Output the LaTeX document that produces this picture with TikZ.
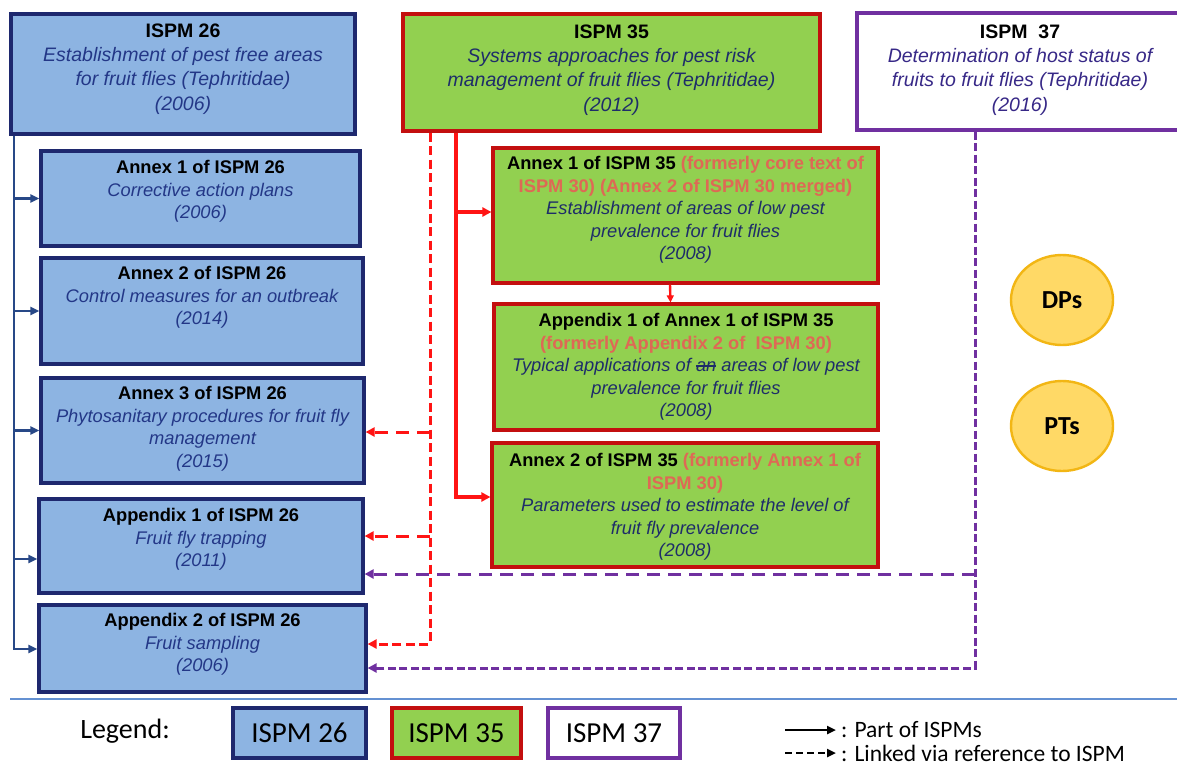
\documentclass[tikz,border=0pt]{standalone}
\usepackage{fontspec}
\setmainfont{Liberation Sans}
\newfontfamily\carl{Carlito}
\usetikzlibrary{arrows.meta,shapes.geometric}
\definecolor{fillA}{RGB}{141,180,226}
\definecolor{bordA}{RGB}{30,40,110}
\definecolor{txtA}{RGB}{35,55,135}
\definecolor{lineA}{RGB}{40,72,135}
\definecolor{fillB}{RGB}{146,208,80}
\definecolor{bordB}{RGB}{195,15,15}
\definecolor{txtB}{RGB}{30,45,105}
\definecolor{former}{RGB}{222,105,85}
\definecolor{redln}{RGB}{255,20,20}
\definecolor{purp}{RGB}{112,48,160}
\definecolor{txtC}{RGB}{55,40,135}
\definecolor{dpfill}{RGB}{255,217,102}
\definecolor{dpbord}{RGB}{242,182,20}
\definecolor{sepln}{RGB}{100,145,210}
\newcommand{\hdr}[1]{{\upshape\bfseries\color{black}#1}}
\newcommand{\fmr}[1]{{\upshape\bfseries\color{former}#1}}
\newcommand{\strk}[1]{\leavevmode\setbox0\hbox{#1}\rlap{\rule[0.28em]{\wd0}{0.09em}}\box0{}}
\begin{document}
\begin{tikzpicture}[x=1pt,y=-1pt,
  boxA/.style={draw=bordA,fill=fillA,line width=3.2pt,inner sep=0pt},
  boxB/.style={draw=bordB,fill=fillB,line width=3.2pt,inner sep=0pt},
  boxC/.style={draw=purp,fill=white,line width=3.2pt,inner sep=0pt},
  headfont/.style={font=\fontsize{19.5}{24.3}\selectfont\itshape},
  subfont/.style={font=\fontsize{18.3}{22.5}\selectfont\itshape},
  txA/.style={text=txtA,align=center,inner sep=0pt,anchor=north},
  txB/.style={text=txtB,align=center,inner sep=0pt,anchor=north},
  txC/.style={text=txtC,align=center,inner sep=0pt,anchor=north},
  blueln/.style={draw=lineA,line width=2.8pt,-{Triangle[length=9pt,width=8pt]}},
  redsolid/.style={draw=redln,line width=3.4pt,-{Triangle[length=9pt,width=9pt]}},
  reddash/.style={draw=redln,line width=3pt,dash pattern=on 9pt off 4.5pt,-{Triangle[length=9pt,width=9pt]}},
  reddashh/.style={draw=redln,line width=3pt,dash pattern=on 13pt off 8pt,-{Triangle[length=9pt,width=9pt]}},
  purdash/.style={draw=purp,line width=3pt,dash pattern=on 8pt off 3.5pt,-{Triangle[length=9pt,width=9pt]}},
  purdashh/.style={draw=purp,line width=3pt,dash pattern=on 13pt off 8pt,-{Triangle[length=9pt,width=9pt]}},
  dpnode/.style={ellipse,draw=dpbord,fill=dpfill,line width=2.4pt,minimum width=102pt,minimum height=90pt,inner sep=0pt,font=\carl\bfseries\fontsize{26}{30}\selectfont},
  legbox/.style={line width=3.2pt,minimum height=50pt,inner sep=0pt,font=\carl\fontsize{29}{32}\selectfont},
  legtxt/.style={font=\carl\fontsize{23.5}{28}\selectfont,inner sep=0pt,anchor=west}
]
\clip (0,0) rectangle (1177,765);
\fill[white] (0,0) rectangle (1177,765);

% ---------- ISPM 26 column ----------
\node[boxA,minimum width=344pt,minimum height=120pt] (i26) at (183,74) {};
\node[txA,headfont] (i26t) at ([yshift=-11pt]i26.north) {\hdr{ISPM 26}\\Establishment of pest free areas\\for fruit flies (Tephritidae)\\(2006)};

\node[boxA,minimum width=319pt,minimum height=95pt] (a1) at (200.5,198.5) {};
\node[txA,subfont] (a1t) at ([yshift=-11pt]a1.north) {\hdr{Annex 1 of ISPM 26}\\Corrective action plans\\(2006)};

\node[boxA,minimum width=322pt,minimum height=106pt] (a2) at (202,311) {};
\node[txA,subfont] (a2t) at ([yshift=-10pt]a2.north) {\hdr{Annex 2 of ISPM 26}\\Control measures for an outbreak\\(2014)};

\node[boxA,minimum width=323pt,minimum height=105pt] (a3) at (202.5,430.5) {};
\node[txA,subfont] (a3t) at ([yshift=-10pt]a3.north) {\hdr{Annex 3 of ISPM 26}\\Phytosanitary procedures for fruit fly\\management\\(2015)};

\node[boxA,minimum width=324pt,minimum height=94pt] (ap1) at (201,546) {};
\node[txA,subfont] (ap1t) at ([yshift=-11pt]ap1.north) {\hdr{Appendix 1 of ISPM 26}\\Fruit fly trapping\\(2011)};

\node[boxA,minimum width=327pt,minimum height=87pt] (ap2) at (202.5,648.5) {};
\node[txA,subfont] (ap2t) at ([yshift=-10pt]ap2.north) {\hdr{Appendix 2 of ISPM 26}\\Fruit sampling\\(2006)};

% ---------- ISPM 35 column ----------
\node[boxB,minimum width=417pt,minimum height=117pt] (i35) at (611.5,72.5) {};
\node[txB,headfont] (i35t) at ([yshift=-12pt]i35.north) {\hdr{ISPM 35}\\Systems approaches for pest risk\\management of fruit flies (Tephritidae)\\(2012)};

\node[boxB,minimum width=385pt,minimum height=135pt] (b1) at (685.5,215.5) {};
\node[txB,subfont] (b1t) at ([yshift=-10pt]b1.north) {\hdr{Annex 1 of ISPM 35} \fmr{(formerly core text of}\\\fmr{ISPM 30) (Annex 2 of ISPM 30 merged)}\\Establishment of areas of low pest\\prevalence for fruit flies\\(2008)};

\node[boxB,minimum width=384pt,minimum height=126pt] (b2) at (686,367) {};
\node[txB,subfont] (b2t) at ([yshift=-11pt]b2.north) {\hdr{Appendix 1 of Annex 1 of ISPM 35}\\\fmr{(formerly Appendix 2 of\ \ ISPM 30)}\\Typical applications of \strk{an} areas of low pest\\prevalence for fruit flies\\(2008)};

\node[boxB,minimum width=386pt,minimum height=124pt] (b3) at (685,505) {};
\node[txB,subfont] (b3t) at ([yshift=-12pt]b3.north) {\hdr{Annex 2 of ISPM 35} \fmr{(formerly Annex 1 of}\\\fmr{ISPM 30)}\\Parameters used to estimate the level of\\fruit fly prevalence\\(2008)};

% ---------- ISPM 37 ----------
\node[boxC,minimum width=326pt,minimum height=117pt] (i37) at (1020,71.5) {};
\node[txC,headfont] (i37t) at ([yshift=-13pt]i37.north) {\hdr{ISPM\ \ 37}\\Determination of host status of\\fruits to fruit flies (Tephritidae)\\(2016)};

\node[dpnode] (dps) at (1062,300) {DPs};
\node[dpnode] (pts) at (1062,426) {PTs};

% ---------- blue connectors ----------
\coordinate (bt) at (14,649);
\coordinate (bt1) at (14,559);
\draw[blueln] (i26.south -| bt) |- (ap2.west |- bt);
\draw[blueln] (bt |- a1.west) -- (a1.west);
\draw[blueln] (bt |- a2.west) -- (a2.west);
\draw[blueln] (bt |- a3.west) -- (a3.west);
\draw[blueln] (bt1) -- (ap1.west |- bt1);

% ---------- red solid connectors ----------
\coordinate (rt) at (456,497);
\coordinate (rt1) at (456,212);
\draw[redsolid] (i35.south -| rt) |- (b3.west |- rt);
\draw[redsolid] (rt1) -- (b1.west |- rt1);
\draw[draw=redln,line width=2.4pt,-{Triangle[length=7pt,width=7pt]}] ([xshift=-15.5pt]b1.south) -- ([xshift=-15.5pt]b2.north);

% ---------- red dashed connectors ----------
\coordinate (rd) at (430,644);
\coordinate (rd1) at (430,536);
\coordinate (rd3) at (430,432);
\draw[reddash] (i35.south -| rd) |- (ap2.east |- rd);
\draw[reddashh] (rd3) -- (a3.east |- rd3);
\draw[reddashh] (rd1) -- (ap1.east |- rd1);

% ---------- purple dashed connectors ----------
\coordinate (pd) at (975,668);
\coordinate (pd1) at (975,574);
\draw[purdash] (i37.south -| pd) |- (ap2.east |- pd);
\draw[purdashh] (pd1) -- (ap1.east |- pd1);

% ---------- legend ----------
\draw[draw=sepln,line width=1.8pt] (10,699) -- (1177,699);
\node[font=\carl\fontsize{28}{32}\selectfont,inner sep=0pt] (leg) at (125,731) {Legend:};
\node[legbox,draw=bordA,fill=fillA,minimum width=133pt] (l26) at (299.5,733) {ISPM 26};
\node[legbox,draw=bordB,fill=fillB,minimum width=129pt] (l35) at (456.5,733) {ISPM 35};
\node[legbox,draw=purp,fill=white,minimum width=132pt] (l37) at (614,733) {ISPM 37};
\coordinate (ls1) at (785,730);
\coordinate (ls2) at (836,730);
\coordinate (ld1) at (785,753);
\coordinate (ld2) at (836,753);
\draw[black,line width=2.6pt,-{Triangle[length=9pt,width=8pt]}] (ls1) -- (ls2);
\draw[black,line width=2.6pt,dash pattern=on 7pt off 4pt,-{Triangle[length=9pt,width=8pt]}] (ld1) -- (ld2);
\node[legtxt] (lt1) at (841,730) {: Part of ISPMs};
\node[legtxt] (lt2) at (841,753) {: Linked via reference to ISPM};
\end{tikzpicture}
\end{document}
